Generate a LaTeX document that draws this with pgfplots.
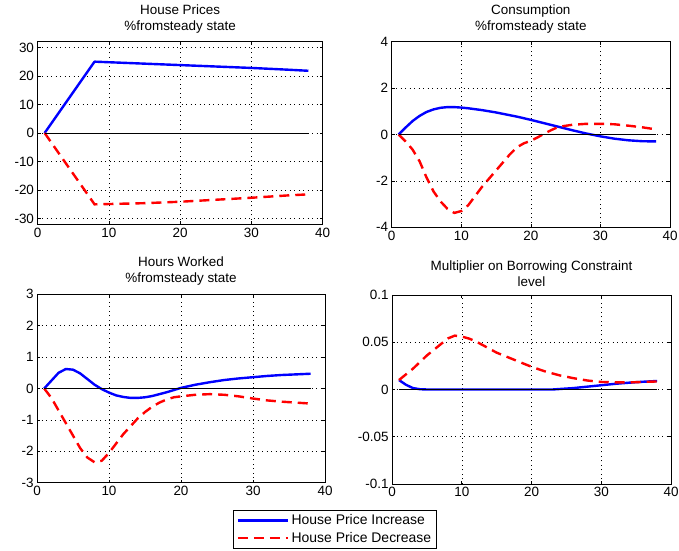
\documentclass[border=0pt]{standalone}
\usepackage{pgfplots}
\pgfplotsset{compat=1.18}
\usepackage{fontspec}
\setmainfont{Liberation Sans}
\pgfplotsset{
  panel/.style={
    scale only axis,
    anchor=south west,
    xmin=0, xmax=40,
    xtick={0,10,20,30,40},
    grid=major,
    major grid style={black, line width=0.5bp, dash pattern=on 1bp off 3.5bp},
    axis line style={black, line width=0.8bp},
    tick align=inside,
    major tick length=3bp,
    tick style={black, line width=0.6bp},
    xtick pos=both, ytick pos=both,
    tick label style={font=\fontsize{13.5}{15}\selectfont},
    /pgf/number format/assume math mode=true,
    scaled ticks=false,
    title style={font=\fontsize{13.5}{16}\selectfont, align=center, inner sep=2.5bp},
    clip=false,
  },
  blueline/.style={blue, line width=2.4bp, line join=round},
  redline/.style={red, line width=2.4bp, dash pattern=on 10bp off 6bp},
  zeroline/.style={black, line width=0.7bp, forget plot},
}
\begin{document}
\begin{tikzpicture}[x=1bp,y=1bp]
\useasboundingbox (0,0) rectangle (679,551);

% Top-left: House Prices
\begin{axis}[panel, at={(37.5bp,326.7bp)}, width=285.2bp, height=182.6bp,
  ymin=-32, ymax=32, ytick={-30,-20,-10,0,10,20,30},
  title={House Prices\\\%fromsteady state}]
\addplot[blueline] coordinates {(1,0) (8,25) (10,24.8) (15,24.3) (20,23.8) (25,23.3) (30,22.8) (35,22.2) (38,21.8)};
\addplot[redline] coordinates {(1,0) (8,-25) (10,-24.9) (15,-24.6) (20,-24.1) (25,-23.4) (30,-22.7) (35,-21.9) (38,-21.5)};
\addplot[zeroline] coordinates {(1,0) (38,0)};
\end{axis}

% Top-right: Consumption
\begin{axis}[panel, at={(391.7bp,323.7bp)}, width=278.3bp, height=185.6bp,
  ymin=-4, ymax=4, ytick={-4,-2,0,2,4},
  title={Consumption\\\%fromsteady state}]
\addplot[blueline] coordinates {(1,0) (2,0.3) (3,0.58) (4,0.8) (5,0.97) (6,1.08) (7,1.15) (8,1.18) (9,1.18) (10,1.16) (11,1.13) (12,1.09) (13,1.05) (14,1.0) (15,0.95) (16,0.89) (17,0.83) (18,0.77) (19,0.7) (20,0.63) (22,0.48) (24,0.33) (26,0.18) (28,0.04) (30,-0.08) (32,-0.18) (34,-0.25) (36,-0.29) (38,-0.3)};
\addplot[redline] coordinates {(1,0) (2,-0.3) (3,-0.65) (4,-1.15) (5,-1.85) (6,-2.45) (7,-2.88) (8,-3.2) (9,-3.38) (10,-3.3) (11,-3.05) (12,-2.65) (13,-2.25) (14,-1.9) (15,-1.55) (16,-1.2) (17,-0.85) (18,-0.55) (19,-0.38) (20,-0.27) (21,-0.12) (22,0.05) (23,0.2) (24,0.33) (26,0.42) (28,0.46) (30,0.46) (32,0.44) (34,0.38) (36,0.31) (38,0.22)};
\addplot[zeroline] coordinates {(1,0) (38,0)};
\end{axis}

% Bottom-left: Hours Worked
\begin{axis}[panel, at={(37bp,68.3bp)}, width=288bp, height=188.4bp,
  ymin=-3, ymax=3, ytick={-3,-2,-1,0,1,2,3},
  title={Hours Worked\\\%fromsteady state},
  legend cell align=left,
  legend style={at={(0.6816,-0.147)}, anchor=north west, draw=black,
    line width=0.8bp, fill=white, inner xsep=3bp, inner ysep=3bp,
    font=\fontsize{14}{15}\selectfont, row sep=4bp,
    nodes={inner xsep=2.5bp, inner ysep=1bp}},
  legend image code/.code={\draw[#1] (0bp,0bp) -- (50bp,0bp);}]
\addplot[blueline] coordinates {(1,0) (2,0.25) (3,0.5) (4,0.62) (5,0.6) (6,0.48) (7,0.3) (8,0.12) (9,-0.02) (10,-0.13) (11,-0.22) (12,-0.27) (13,-0.3) (14,-0.3) (15,-0.28) (16,-0.24) (17,-0.18) (18,-0.12) (19,-0.05) (20,0.02) (22,0.12) (24,0.2) (26,0.27) (28,0.32) (30,0.36) (32,0.4) (34,0.43) (36,0.45) (38,0.47)};
\addlegendentry{House Price Increase}
\addplot[redline] coordinates {(1,0) (2,-0.3) (3,-0.7) (4,-1.1) (5,-1.5) (6,-1.9) (7,-2.2) (8,-2.35) (9,-2.3) (10,-2.05) (11,-1.75) (12,-1.45) (13,-1.2) (14,-0.95) (15,-0.75) (16,-0.58) (17,-0.45) (18,-0.35) (19,-0.28) (20,-0.25) (22,-0.2) (24,-0.18) (26,-0.2) (28,-0.25) (30,-0.32) (32,-0.38) (34,-0.42) (36,-0.45) (38,-0.48)};
\addlegendentry{House Price Decrease\hspace{19bp}}
\addplot[zeroline] coordinates {(1,0) (38,0)};
\end{axis}

% Bottom-right: Multiplier
\begin{axis}[panel, at={(392bp,67bp)}, width=279bp, height=189bp,
  ymin=-0.1, ymax=0.1, ytick={-0.1,-0.05,0,0.05,0.1},
  yticklabels={-0.1,-0.05,0,0.05,0.1},
  title={Multiplier on Borrowing Constraint\\level}]
\addplot[blueline] coordinates {(1,0.01) (2,0.005) (3,0.0015) (4,0.0003) (5,0) (10,0) (15,0) (20,0) (23,0) (24,0.0005) (26,0.0015) (28,0.003) (30,0.0045) (32,0.006) (34,0.0072) (36,0.0082) (38,0.009)};
\addplot[redline] coordinates {(1,0.01) (2,0.016) (3,0.022) (4,0.029) (5,0.036) (6,0.042) (7,0.048) (8,0.054) (9,0.057) (10,0.056) (11,0.054) (12,0.051) (13,0.047) (14,0.043) (15,0.039) (16,0.036) (17,0.033) (18,0.030) (19,0.027) (20,0.024) (22,0.019) (24,0.015) (26,0.012) (28,0.0095) (30,0.008) (32,0.0075) (34,0.0075) (36,0.008) (38,0.0085)};
\addplot[zeroline] coordinates {(1,0) (38,0)};
\end{axis}
\end{tikzpicture}
\end{document}
